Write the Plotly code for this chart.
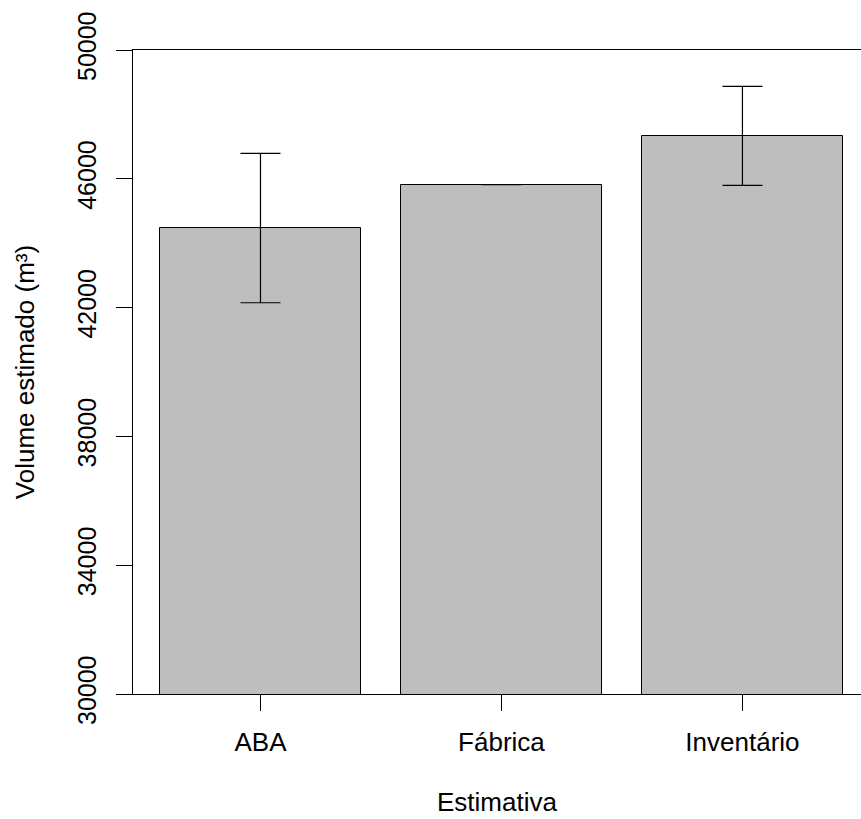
import plotly.graph_objects as go

categories = ["ABA", "Fábrica", "Inventário"]
volumes = [44470, 45817, 47332]
errors = [2320, 0, 1537]
y_ticks = [30000, 34000, 38000, 42000, 46000, 50000]

positions = list(range(1, len(categories) + 1))

FONT = "Liberation Sans, Arial, sans-serif"

fig = go.Figure()
fig.add_trace(go.Bar(
    x=positions,
    y=volumes,
    width=0.834,
    marker=dict(color="#BEBEBE", line=dict(color="black", width=1)),
    error_y=dict(type="data", array=errors, visible=True,
                 color="black", thickness=1.2, width=20),
    showlegend=False,
))

fig.update_layout(
    width=861, height=819,
    margin=dict(l=133, r=0, t=50, b=125),
    plot_bgcolor="white", paper_bgcolor="white",
    font=dict(family=FONT, color="black"),
    bargap=0,
)
fig.update_xaxes(
    range=[0.471, 3.492],
    tickvals=positions, ticktext=categories,
    ticks="outside", ticklen=16, tickcolor="black", tickwidth=1,
    ticklabelstandoff=9,
    showline=True, linecolor="black", linewidth=1, mirror=True,
    showgrid=False, zeroline=False,
    tickfont=dict(size=26, family=FONT),
    title=dict(text="Estimativa", font=dict(size=26, family=FONT), standoff=36),
)
fig.update_yaxes(
    range=[30000, 50000],
    tickvals=y_ticks, ticktext=[str(v) for v in y_ticks],
    tickangle=-90,
    ticks="outside", ticklen=16, tickcolor="black", tickwidth=1,
    ticklabelstandoff=10,
    showline=True, linecolor="black", linewidth=1,
    showgrid=False, zeroline=False,
    tickfont=dict(size=25, family=FONT),
    title=dict(text="Volume estimado (m³)", font=dict(size=26, family=FONT), standoff=30),
)

fig.write_html("out.html")
